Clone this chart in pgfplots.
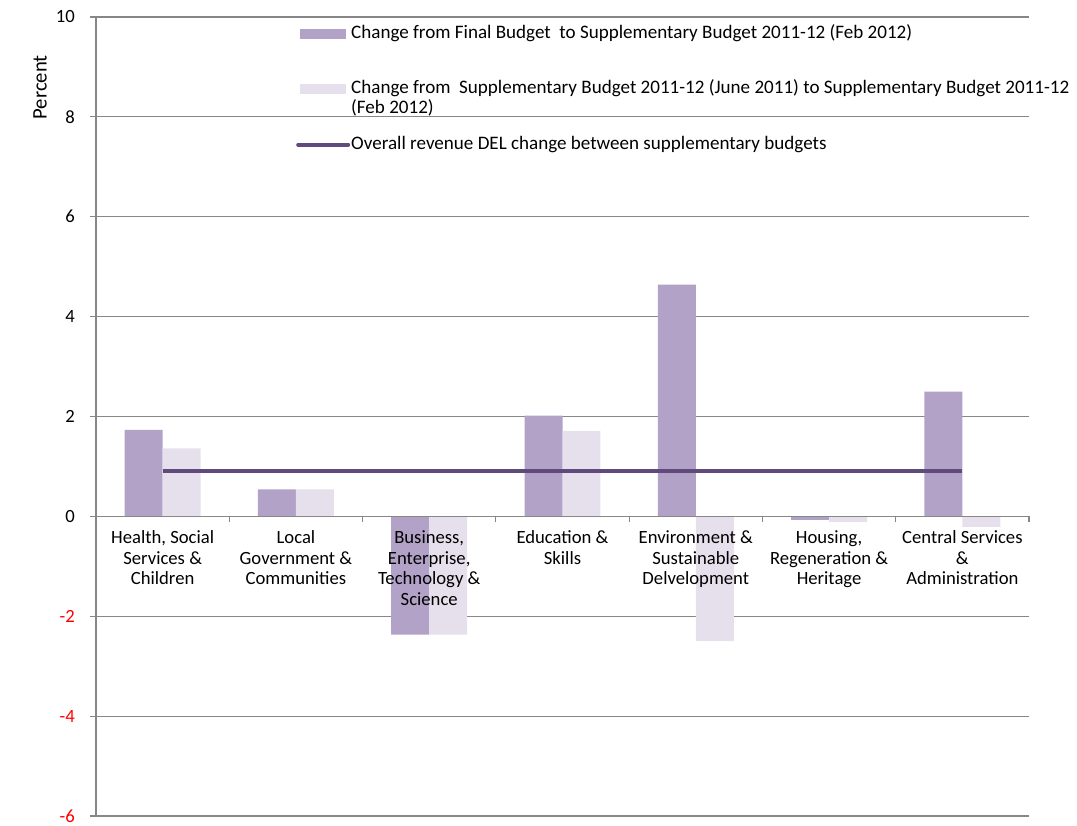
\documentclass[border=0pt]{standalone}
\usepackage{fontspec}
\setmainfont{Carlito}
\usepackage{pgfplots}
\pgfplotsset{compat=1.18}
\definecolor{barA}{HTML}{B2A2C7}
\definecolor{barB}{HTML}{E5E0EC}
\definecolor{lineC}{HTML}{604A7B}
\definecolor{gridC}{HTML}{878787}
\pgfplotsset{
  layers/mylayers/.define layer set={axis background,axis grid,main,axis ticks,axis lines,axis tick labels,axis descriptions,axis foreground}{/pgfplots/layers/standard},
}
\begin{document}
\fontsize{14}{15.4}\selectfont
\begin{tikzpicture}
\begin{axis}[
  set layers=mylayers,
  name=ax,
  scale only axis,
  width=699.75pt, height=599.25pt,
  xmin=-0.5, xmax=6.5, ymin=-6, ymax=10,
  axis x line=middle, axis y line=left,
  axis line style={-, gridC, line width=0.9pt},
  hide obscured x ticks=false, hide obscured y ticks=false,
  ytick={-6,-4,...,10},
  yticklabels={\textcolor{red}{-6},\textcolor{red}{-4},\textcolor{red}{-2},0,2,4,6,8,10},
  ymajorgrids, grid style={gridC, line width=0.9pt},
  xtick={0,...,6},
  minor xtick={0.5,1.5,...,6.5},
  tick align=outside,
  major tick length=4.5pt, minor tick length=4.5pt,
  major x tick style={draw=none},
  minor x tick style={gridC, line width=0.9pt},
  ytick style={gridC, line width=0.9pt},
  xticklabels={{Health, Social\\Services \&\\Children},{Local\\Government \&\\Communities},{Business,\\Enterprise,\\Technology \&\\Science},{Education \&\\Skills},{Environment \&\\Sustainable\\Delvelopment},{Housing,\\Regeneration \&\\Heritage},{Central Services\\\&\\Administration}},
  xticklabel style={align=center, font=\fontsize{14}{15.4}\selectfont, yshift=-1.5pt},
  yticklabel style={font=\fontsize{14}{15.4}\selectfont, xshift=-6.5pt},
  ylabel={Percent},
  ylabel style={at={(rel axis cs:0,0.912)}, anchor=center, yshift=42pt, font=\fontsize{15.5}{18}\selectfont},
  legend cell align=left,
  legend style={at={(rel axis cs:0.2143,0.9903)}, anchor=north west, draw=none, fill=none,
    inner sep=0pt, row sep=28.6pt, column sep=0.75pt, font=\fontsize{14.3}{15.4}\selectfont,
    nodes={inner sep=0pt, text height=10pt, text depth=3pt}},
]
\addplot[ybar, bar width=0.285, bar shift=-0.1425, fill=barA, draw=none,
  legend image code/.code={\fill[barA] (0pt,-3.75pt) rectangle (34.5pt,3.75pt);}]
  coordinates {(0,1.73)(1,0.54)(2,-2.37)(3,2.02)(4,4.64)(5,-0.07)(6,2.50)};
\addlegendentry{Change from Final Budget\ \ to Supplementary Budget 2011-12 (Feb 2012)}
\addplot[ybar, bar width=0.285, bar shift=0.1425, fill=barB, draw=none,
  legend image code/.code={\fill[barB] (0pt,-3.75pt) rectangle (34.5pt,3.75pt);}]
  coordinates {(0,1.36)(1,0.54)(2,-2.37)(3,1.71)(4,-2.50)(5,-0.11)(6,-0.21)};
\addlegendentry{\rlap{\raisebox{-15pt}[0pt][0pt]{(Feb 2012)}}Change from\ \ Supplementary Budget 2011-12 (June 2011) to Supplementary Budget 2011-12}
\addplot[lineC, line width=3pt, mark=none,
  legend image code/.code={\draw[lineC, line width=3pt, line cap=round] (-1.5pt,0) -- (36pt,0);}]
  coordinates {(0,0.9)(6,0.9)};
\addlegendentry{Overall revenue DEL change between supplementary budgets}
\end{axis}
\pgfresetboundingbox
\path[use as bounding box] ([shift={(-72pt,-6.75pt)}]ax.south west) rectangle ([shift={(36pt,12.75pt)}]ax.north east);
\end{tikzpicture}
\end{document}
